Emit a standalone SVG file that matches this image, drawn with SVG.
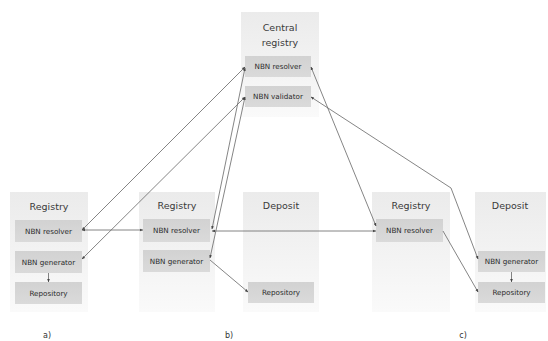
<svg xmlns="http://www.w3.org/2000/svg" width="548" height="341" viewBox="0 0 548 341">
<defs>
<linearGradient id="og" x1="0" y1="0" x2="0" y2="1"><stop offset="0" stop-color="#ebebeb"/><stop offset="1" stop-color="#fafafa"/></linearGradient>
<linearGradient id="ig" x1="0" y1="0" x2="0" y2="1"><stop offset="0" stop-color="#d2d2d2"/><stop offset="1" stop-color="#dadada"/></linearGradient>
<marker id="ah" viewBox="0 0 6 6" refX="5.5" refY="3" markerWidth="4" markerHeight="4" orient="auto-start-reverse"><path d="M0,0.5 L6,3 L0,5.5 Z" fill="#444"/></marker>
<style>
.o{fill:url(#og);stroke:none}
.i{fill:url(#ig);stroke:none}
.t{font-family:"DejaVu Sans",Verdana,sans-serif;font-size:9.5px;fill:#3a3a3a;text-anchor:middle}
.s{font-family:"DejaVu Sans",Verdana,sans-serif;font-size:7.2px;fill:#2a2a2a;text-anchor:middle}
.l{font-family:"DejaVu Sans",Verdana,sans-serif;font-size:8px;fill:#333;text-anchor:middle}
.c{fill:none;stroke:#666;stroke-width:0.8;marker-end:url(#ah);marker-start:url(#ah)}
.d{fill:none;stroke:#666;stroke-width:0.8;marker-end:url(#ah)}
</style>
</defs>
<rect width="548" height="341" fill="#fff"/>
<g id="central">
<rect class="o" x="241" y="12" width="78" height="105"/>
<text class="t" x="280" y="31">Central</text>
<text class="t" x="280" y="46">registry</text>
<g id="central-resolver"><rect class="i" x="245" y="56" width="66" height="21"/><text class="s" x="278" y="69">NBN resolver</text></g>
<g id="central-validator"><rect class="i" x="245" y="86" width="66" height="21"/><text class="s" x="278" y="99">NBN validator</text></g>
</g>
<g id="registry-a">
<rect class="o" x="10" y="192" width="78" height="120"/>
<text class="t" x="49" y="210">Registry</text>
<g id="a-resolver"><rect class="i" x="15" y="220" width="67" height="22"/><text class="s" x="48.5" y="233.5">NBN resolver</text></g>
<g id="a-generator"><rect class="i" x="15" y="251" width="67" height="22"/><text class="s" x="48.5" y="264.5">NBN generator</text></g>
<g id="a-repository"><rect class="i" x="15" y="282" width="67" height="22"/><text class="s" x="48.5" y="295.5">Repository</text></g>
</g>
<g id="registry-b">
<rect class="o" x="139" y="192" width="76" height="120"/>
<text class="t" x="177" y="209">Registry</text>
<g id="b-resolver"><rect class="i" x="143" y="219" width="67" height="23"/><text class="s" x="176.5" y="233">NBN resolver</text></g>
<g id="b-generator"><rect class="i" x="143" y="250" width="67" height="22"/><text class="s" x="176.5" y="263.5">NBN generator</text></g>
</g>
<g id="deposit-b">
<rect class="o" x="243" y="192" width="76" height="120"/>
<text class="t" x="281" y="209">Deposit</text>
<g id="b-repository"><rect class="i" x="248" y="282" width="66" height="21"/><text class="s" x="281" y="295">Repository</text></g>
</g>
<g id="registry-c">
<rect class="o" x="372" y="192" width="78" height="120"/>
<text class="t" x="411" y="209">Registry</text>
<g id="c-resolver"><rect class="i" x="376" y="219" width="67" height="23"/><text class="s" x="409.5" y="233">NBN resolver</text></g>
</g>
<g id="deposit-c">
<rect class="o" x="475" y="192" width="71" height="120"/>
<text class="t" x="510" y="209">Deposit</text>
<g id="c-generator"><rect class="i" x="478" y="251" width="67" height="21"/><text class="s" x="511.5" y="264">NBN generator</text></g>
<g id="c-repository"><rect class="i" x="478" y="282" width="67" height="21"/><text class="s" x="511.5" y="295">Repository</text></g>
</g>
<g id="connectors">
<path class="c" d="M82,230 L245,67"/>
<path class="c" d="M82,259 L245,97"/>
<path class="c" d="M82,230 L143,230"/>
<path class="c" d="M212,229 L245,68"/>
<path class="c" d="M210,258 L245,97"/>
<path class="c" d="M212,231 L376,231"/>
<path class="d" d="M210,260 L248,292"/>
<path class="c" d="M311,67 L376,226"/>
<path class="c" d="M311,97 L451,188 L478,259"/>
<path class="d" d="M443,231 L478,292"/>
<path class="d" d="M48.5,273 L48.5,282"/>
<path class="d" d="M511.5,272 L511.5,282"/>
</g>
<g id="labels">
<text class="l" x="47" y="338">a)</text>
<text class="l" x="229" y="338">b)</text>
<text class="l" x="463" y="338">c)</text>
</g>
</svg>
